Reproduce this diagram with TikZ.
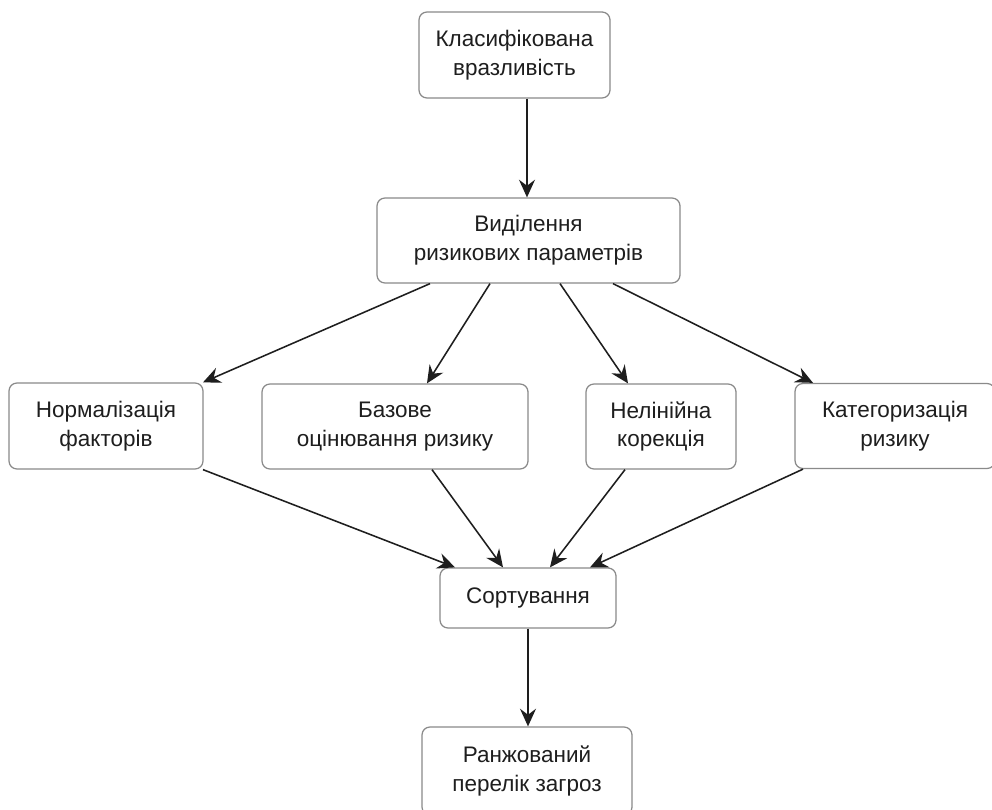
\documentclass[tikz,border=0pt]{standalone}
\usepackage{fontspec}
\setmainfont{Liberation Sans}
\usepackage{xcolor}
\usetikzlibrary{arrows.meta,calc}

\definecolor{boxline}{HTML}{8A8A8A}
\definecolor{inkline}{HTML}{1E1E1E}

\begin{document}
\begin{tikzpicture}[x=0.25mm,y=-0.25mm,
  stagebox/.style={draw=boxline,line width=0.9pt,rounded corners=2mm,fill=white,
    align=center,inner sep=0pt,text=inkline,
    font=\fontsize{16pt}{20.6pt}\selectfont},
  flowarrow/.style={draw=inkline,line width=1.1pt,-{Stealth[length=4.4mm,width=4mm,inset=1.5mm]}}]
\useasboundingbox[fill=white] (0,0) rectangle (992,810);
% nodes at pixel positions of the reference
\node[stagebox,minimum width=47.75mm,minimum height=21.5mm] (K) at (514.5,55) {Класифікована\\вразливість};
\node[stagebox,minimum width=75.75mm,minimum height=21.25mm] (V) at (528.5,240.5) {Виділення\\ризикових параметрів};
\node[stagebox,minimum width=48.5mm,minimum height=21.5mm] (N) at (106,426) {Нормалізація\\факторів};
\node[stagebox,minimum width=66.5mm,minimum height=21.25mm] (B) at (395,426.5) {Базове\\оцінювання ризику};
\node[stagebox,minimum width=37.5mm,minimum height=21.25mm] (L) at (661,426.5) {Нелінійна\\корекція};
\node[stagebox,minimum width=50mm,minimum height=21.25mm] (C) at (895,426) {Категоризація\\ризику};
\node[stagebox,minimum width=44mm,minimum height=15mm] (S) at (528,598) {Сортування};
\node[stagebox,minimum width=52.5mm,minimum height=22mm] (R) at (527,771) {Ранжований\\перелік загроз};
% connectors
\coordinate (Kout) at ($(K.south)+(12.5,0)$);
\draw[flowarrow] (Kout) -- (Kout |- V.north);
\foreach \n/\s/\e in {N/-98.5/97,B/-38.5/32,L/31.5/-33,C/84.5/-82}{
  \draw[flowarrow] ($(V.south)+(\s,0)$) -- ($(\n.north)+(\e,0)$);
}
\foreach \n/\s/\e in {N/97/-73,B/37/-25,L/-36/22,C/-92/62}{
  \draw[flowarrow] ($(\n.south)+(\s,0)$) -- ($(S.north)+(\e,0)$);
}
\draw[flowarrow] (S.south) -- (S.south |- R.north);
\end{tikzpicture}
\end{document}
